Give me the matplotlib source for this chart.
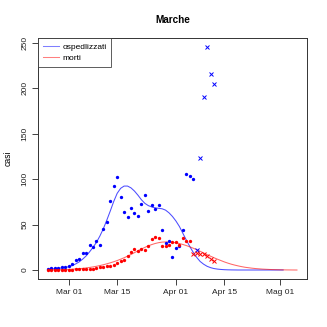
import numpy as np
import matplotlib
matplotlib.use("Agg")
import matplotlib.pyplot as plt
import matplotlib.dates as mdates

plt.rcParams['font.family'] = ['Liberation Sans', 'DejaVu Sans']

# dati giornalieri (dal 24 febbraio 2020)
start = np.datetime64('2020-02-24')

osp_punti = [1, 2, 2, 2, 3, 3,
             4.7, 6.6, 11.3, 12, 18.7, 18.7, 27.8, 25, 32, 27.8,
             45, 52.8, 76, 93, 103, 80, 64, 58, 68.6, 62.6,
             59.5, 72.7, 83, 65, 72, 67, 72, 43.6, 29.7, 31.5,
             14.3, 24.6, 26.4, 43.6, 106, 104, 100]
osp_extra = [22, 123, 191, 246, 216, 205]  # ultimi giorni (x)

morti_punti = [0, 0, 0, 0, 0, 0,
               0, 0, 1, 1, 1, 1, 1, 1, 2, 3,
               3, 4, 5, 5.5, 8, 10.5, 11, 15.5, 20, 23,
               21.5, 23.5, 22.3, 26.5, 34.4, 36, 35, 26, 26, 28,
               30.8, 30.5, 28, 35, 32.5, 32.5]
morti_extra = [18, 19, 18, 17.5, 15.5, 12, 10]

osp_fit = [1.0, 1.2, 1.5, 1.9, 2.4, 3.0,
           3.7, 5.0, 6.8, 9.0, 12, 15.5, 20, 25, 30.5, 37.5,
           45.5, 55, 65, 75.5, 84.5, 90, 92.5, 92.5, 90.5, 87,
           82.5, 77.5, 73.5, 71, 69.5, 68.5, 68, 67.5, 66, 63,
           59, 54, 48, 40.5, 33, 26, 19.5, 14, 9.5, 6.5,
           4.2, 2.7, 1.7, 1.1, 0.7, 0.45, 0.3, 0.2, 0.15, 0.1,
           0.1, 0.1, 0.1, 0.1, 0.1, 0.1, 0.1, 0.1, 0.1, 0.1,
           0.1, 0.1, 0.1]

morti_fit = [0.2, 0.25, 0.3, 0.4, 0.5, 0.65,
             0.8, 1.0, 1.25, 1.55, 1.9, 2.35, 2.9, 3.5, 4.2, 5.0,
             5.9, 6.9, 8.0, 9.2, 10.5, 12, 13.6, 15.3, 17.2, 19.2,
             21.2, 23.2, 25, 26.7, 28.1, 29.3, 30.2, 30.8, 31, 30.9,
             30.6, 30, 29.2, 28.2, 27, 25.6, 24.1, 22.5, 20.7, 18.9,
             17, 15.3, 13.6, 12, 10.5, 9, 7.7, 6.5, 5.5, 4.6,
             3.8, 3.1, 2.6, 2.1, 1.7, 1.4, 1.1, 0.9, 0.7, 0.55,
             0.45, 0.35, 0.27, 0.2, 0.16, 0.12, 0.09]

tick_date = ['2020-03-01', '2020-03-15', '2020-04-01', '2020-04-15', '2020-05-01']
tick_lab = ['Mar 01', 'Mar 15', 'Apr 01', 'Apr 15', 'Mag 01']

giorni = lambda n, off=0: (start + np.arange(off, off + n)).astype(object)

fig = plt.figure(figsize=(3.27, 3.27), dpi=100)
ax = fig.add_axes([0.1162, 0.1468, 0.8226, 0.737])

ax.plot(giorni(len(osp_fit)), osp_fit, color='blue', alpha=0.7, lw=0.75, label='ospedlizzati')
ax.plot(giorni(len(morti_fit)), morti_fit, color='red', alpha=0.6, lw=0.75, label='morti')

ax.plot(giorni(len(osp_punti)), osp_punti, 'o', color='blue', ms=2.4, mew=0)
ax.plot(giorni(len(osp_extra), len(osp_punti)), osp_extra, 'x', color='blue', ms=3, mew=0.7)
ax.plot(giorni(len(morti_punti)), morti_punti, 'o', color='red', ms=2.4, mew=0)
ax.plot(giorni(len(morti_extra), len(morti_punti)), morti_extra, 'x', color='red', ms=3, mew=0.7)

x0 = mdates.date2num(np.datetime64('2020-03-01'))
ax.set_xlim(x0 - 8.9, x0 + 68.9)
ax.set_ylim(-9.8, 255.5)
ax.set_xticks([mdates.date2num(np.datetime64(t)) for t in tick_date])
ax.set_xticklabels(tick_lab)
ax.set_yticks([0, 50, 100, 150, 200, 250])
for lab in ax.get_yticklabels():
    lab.set_rotation(90)
    lab.set_va('center')
ax.tick_params(direction='out', length=4, width=0.6, labelsize=6, colors='#222222', pad=3)
for s in ax.spines.values():
    s.set_linewidth(0.7)
    s.set_color('#333333')

ax.set_ylabel('casi', fontsize=6.2, labelpad=6)
ax.set_title('Marche', fontsize=7.2, fontweight='bold', pad=11)

leg = ax.legend(loc='upper left', fontsize=6, frameon=True, fancybox=False,
                borderaxespad=0, handlelength=1.9, handletextpad=0.4,
                borderpad=0.6, labelspacing=0.45)
leg.get_frame().set_edgecolor('#333333')
leg.get_frame().set_linewidth(0.7)
for h in leg.get_lines():
    h.set_alpha(0.5)

fig.savefig('out.png', dpi=100)
